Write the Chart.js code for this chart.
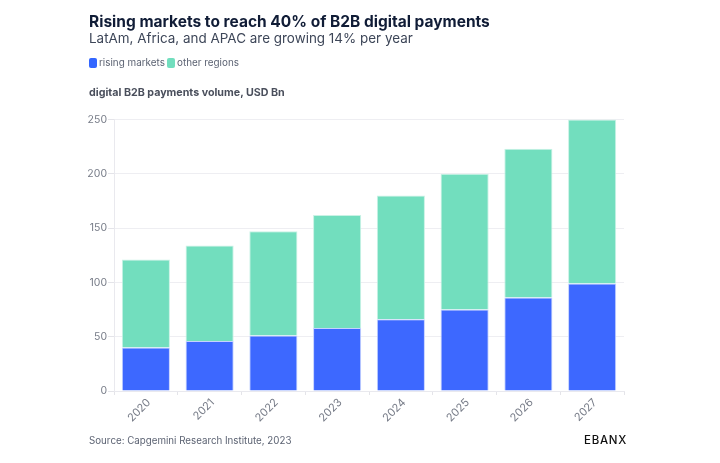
<!DOCTYPE html>
<html>
<head>
<meta charset="utf-8">
<script src="https://cdn.jsdelivr.net/npm/chart.js@4"></script>
<style>
  html, body { margin: 0; padding: 0; background: #fff; }
  body { width: 720px; height: 463px; position: relative; overflow: hidden; font-family: Inter, sans-serif; }
  #wrap { position: absolute; left: 0; top: 0; width: 720px; height: 463px; }
  .txt { position: absolute; white-space: nowrap; line-height: 1; }
  #title { left: 89px; top: 14px; font-size: 15.5px; font-weight: 700; color: #101c36; }
  #subtitle { left: 89px; top: 32px; font-size: 13.45px; color: #3d4658; }
  #yname { left: 89px; top: 88px; font-size: 10.7px; font-weight: 700; color: #4a4f5c; }
  #source { left: 89px; top: 436px; font-size: 9.75px; color: #5b6272; }
  #logo { left: 584px; top: 435px; font-size: 11.5px; font-weight: 500; letter-spacing: 0.7px; color: #111; }
  .leg { top: 58px; font-size: 9.9px; color: #5b6272; }
  .box { position: absolute; top: 58px; width: 8px; height: 10px; border-radius: 2px; }
</style>
</head>
<body>
<div id="wrap"><canvas id="myChart"></canvas></div>
<div class="txt" id="title">Rising markets to reach 40% of B2B digital payments</div>
<div class="txt" id="subtitle">LatAm, Africa, and APAC are growing 14% per year</div>
<div class="box" style="left:89px;background:#3366ff"></div>
<div class="txt leg" style="left:99px">rising markets</div>
<div class="box" style="left:167px;background:#72deBe"></div>
<div class="txt leg" style="left:177px">other regions</div>
<div class="txt" id="yname">digital B2B payments volume, USD Bn</div>
<div class="txt" id="source">Source: Capgemini Research Institute, 2023</div>
<div class="txt" id="logo">EBANX</div>
<script>
const years = ['2020', '2021', '2022', '2023', '2024', '2025', '2026', '2027'];
const risingMarkets = [40, 46, 51, 58, 66, 75, 86, 99];
const otherRegions = [81, 88, 96, 104, 114, 125, 137, 151];
const yTicks = [0, 50, 100, 150, 200, 250];

const ctx = document.getElementById('myChart');
const myChart = new Chart(ctx, {
  type: 'bar',
  data: {
    labels: years,
    datasets: [
      { label: 'rising markets', data: risingMarkets, backgroundColor: '#3d68ff', borderColor: '#c5d2ff', borderWidth: 1 },
      { label: 'other regions', data: otherRegions, backgroundColor: '#72debe', borderColor: '#c9f2e5', borderWidth: 1 }
    ]
  },
  options: {
    responsive: true,
    maintainAspectRatio: false,
    animation: false,
    devicePixelRatio: 1,
    layout: { padding: { left: 0, right: 96, top: 119.5, bottom: 0 } },
    plugins: { legend: { display: false }, tooltip: { enabled: false } },
    datasets: { bar: { barPercentage: 1, categoryPercentage: 0.755 } },
    scales: {
      x: {
        stacked: true,
        grid: { drawOnChartArea: false, tickColor: '#e4e4e9', tickLength: 4 },
        border: { color: '#e9e9ee' },
        afterFit: function (scale) { scale.height = 72; },
        ticks: { color: '#777c88', font: { family: 'Inter', size: 11 }, maxRotation: 45, minRotation: 45, padding: 1, labelOffset: 3 }
      },
      y: {
        stacked: true,
        min: 0,
        max: 250,
        afterFit: function (scale) { scale.width = 114; },
        afterBuildTicks: function (scale) { scale.ticks = yTicks.map(v => ({ value: v })); },
        grid: { color: '#eeeef2', tickColor: '#e4e4e9', tickLength: 6 },
        border: { color: '#e9e9ee' },
        ticks: { color: '#777c88', font: { family: 'Inter', size: 10.5 }, padding: 1 }
      }
    }
  }
});
</script>
</body>
</html>
